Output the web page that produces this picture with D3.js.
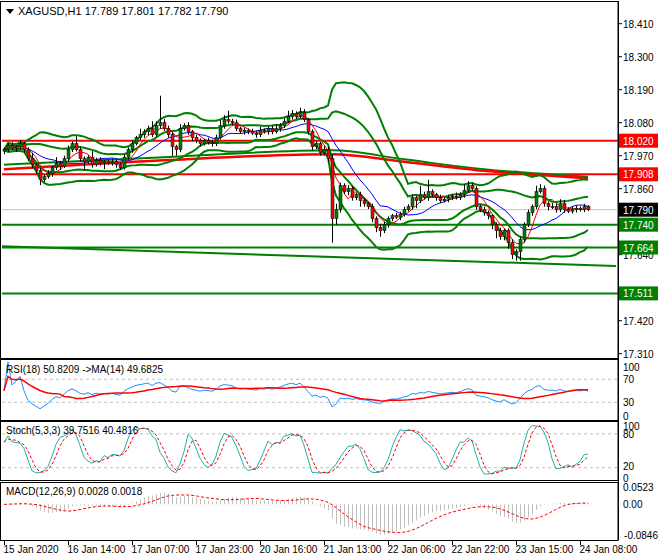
<!DOCTYPE html>
<html><head><meta charset="utf-8">
<script src="https://cdn.jsdelivr.net/npm/d3@7"></script>
<style>body{margin:0;background:#fff}svg{display:block;font-family:"Liberation Sans",Arial,sans-serif}</style>
</head><body><svg id="c" width="660" height="560"></svg>
<script>
const symbolTitle = "XAGUSD,H1  17.789 17.801 17.782 17.790";
const closes = [
17.990,18.005,17.995,18.000,18.010,17.990,17.960,17.940,17.920,17.890,
17.900,17.910,17.930,17.945,17.935,17.960,17.990,18.010,17.990,17.960,
17.950,17.965,17.940,17.955,17.945,17.950,17.945,17.950,17.940,17.930,
17.965,17.990,18.010,18.030,18.040,18.050,18.060,18.040,18.070,18.080,
18.060,18.040,18.000,17.990,18.060,18.070,18.050,18.030,18.020,18.010,
18.020,18.015,18.010,18.030,18.070,18.090,18.085,18.080,18.060,18.050,
18.055,18.050,18.045,18.040,18.055,18.050,18.060,18.050,18.060,18.070,
18.085,18.100,18.110,18.100,18.115,18.090,18.050,18.000,18.010,17.980,
17.990,17.960,17.760,17.790,17.870,17.850,17.860,17.830,17.840,17.820,
17.810,17.800,17.760,17.730,17.720,17.740,17.760,17.770,17.765,17.775,
17.790,17.800,17.830,17.820,17.840,17.830,17.850,17.840,17.830,17.820,
17.825,17.830,17.835,17.830,17.840,17.855,17.870,17.860,17.800,17.790,
17.780,17.770,17.740,17.720,17.700,17.720,17.680,17.640,17.650,17.690,
17.740,17.780,17.800,17.850,17.860,17.810,17.800,17.800,17.790,17.810,
17.790,17.785,17.790,17.795,17.790,17.800,17.790];
const firstOpen = 17.985;
const wickHi = [
8,6,10,5,12,6,8,20,6,10, 8,12,6,20,8,10,14,8,25,10, 8,6,20,8,10,6,8,10,6,8,
10,8,12,6,20,8,10,25,15,90, 12,10,8,6,15,8,12,6,10,8, 6,10,8,10,20,15,30,8,10,6,
8,6,10,8,12,6,8,10,15,8, 10,20,12,8,15,10,6,8,10,6, 12,10,15,20,10,8,12,8,6,10,
8,6,10,8,12,10,8,6,10,8, 10,8,12,6,30,10,40,8,6,10, 8,10,6,12,8,20,15,10,8,6,
10,8,6,8,10,6,8,12,8,10, 8,10,8,20,15,10,8,12,10,15, 12,8,10,8,6,10,5];
const wickLo = [
10,8,6,12,8,10,8,12,10,18, 8,6,10,8,12,6,10,8,6,10, 30,8,10,6,8,20,6,8,10,8,
6,8,10,6,8,10,12,8,6,10, 8,10,30,20,8,6,10,12,8,10, 6,8,10,8,6,10,8,10,8,6,
10,8,6,10,8,6,10,8,6,10, 8,6,10,8,6,8,10,12,8,10, 8,10,80,20,10,8,12,10,8,20,
10,8,12,15,20,8,10,8,6,10, 8,6,10,25,8,6,10,8,10,8, 6,10,8,6,8,10,8,6,10,8,
10,12,15,25,10,12,20,15,20,30, 10,8,10,8,6,10,12,8,10,8, 10,6,8,10,6,8,5];
const priceTicks = [18.410,18.300,18.190,18.080,17.970,17.860,17.640,17.420,17.310];
const redLevels = [18.020, 17.908];
const greenLevels = [17.740, 17.664, 17.511];
const lastPrice = 17.790;
const longRed = [[0,17.925],[40,17.955],[82,17.975],[100,17.950],[120,17.920],[146,17.895]];
const longGreen = [[0,17.940],[40,17.965],[82,17.988],[100,17.958],[120,17.925],[146,17.900]];
const slopeGreen = [[-0.5,17.668],[153,17.602]];
const dateLabels = ["15 Jan 2020","16 Jan 14:00","17 Jan 07:00","17 Jan 23:00","20 Jan 16:00","21 Jan 13:00","22 Jan 06:00","22 Jan 22:00","23 Jan 15:00","24 Jan 08:00"];
const rsiTicks = [100,70,30,0], stochTicks=[100,80,20,0], macdTicks=[0.0523,0.00,-0.0846];

const N = closes.length;
const opens = closes.map((c,i)=> i===0?firstOpen:closes[i-1]);
const highs = closes.map((c,i)=> Math.max(c,opens[i]) + wickHi[i]/1000);
const lows  = closes.map((c,i)=> Math.min(c,opens[i]) - wickLo[i]/1000);

const sma=(a,n)=>a.map((v,i)=>{const s=a.slice(Math.max(0,i-n+1),i+1);return d3.mean(s);});
const ema=(a,n)=>{const k=2/(n+1);let e=a[0];return a.map(v=>e=v*k+e*(1-k));};
const bb=(n,d)=>closes.map((v,i)=>{const s=closes.slice(Math.max(0,i-n+1),i+1);const m=d3.mean(s);const sd=Math.sqrt(d3.mean(s.map(x=>(x-m)**2)));return [m+d*sd,m-d*sd];});
const bb2=bb(20,2), bb1=bb(20,1);
const maFast=sma(closes,5), maSlow=sma(closes,13);
let ag=0,al=0;const rsi=closes.map((c,i)=>{if(i===0)return 50;const ch=c-closes[i-1];const g=Math.max(ch,0),l=Math.max(-ch,0);
 if(i<=18){ag=(ag*(i-1)+g)/i;al=(al*(i-1)+l)/i;}else{ag=(ag*17+g)/18;al=(al*17+l)/18;}return al===0?100:100-100/(1+ag/al);});
const rsiMa=sma(rsi,14);
const num=[],den=[];closes.forEach((c,i)=>{const lo=d3.min(lows.slice(Math.max(0,i-4),i+1)),hi=d3.max(highs.slice(Math.max(0,i-4),i+1));num.push(c-lo);den.push(hi-lo);});
const stK=closes.map((c,i)=>{const a=d3.sum(num.slice(Math.max(0,i-2),i+1)),b=d3.sum(den.slice(Math.max(0,i-2),i+1));return b?100*a/b:50;});
const stD=sma(stK,3);
const e12=ema(closes,12),e26=ema(closes,26);const macd=e12.map((v,i)=>v-e26[i]);const macdSig=sma(macd,9);

const svg=d3.select("#c");
const L=2,R=618;
const x=d3.scaleLinear().domain([0,1]).range([4,8]);
const yP=d3.scaleLinear().domain([17.310,18.410]).range([353.7,23.7]);
const yR=d3.scaleLinear().domain([0,100]).range([419.5,362]);
const yS=d3.scaleLinear().domain([0,100]).range([479,422.5]);
const yM=d3.scaleLinear().domain([-0.0846,0.0523]).range([539,483]);
const panels=[[1,358],[359,420],[421,480],[482,540]];
panels.forEach(p=>svg.append("rect").attr("x",L-1.5).attr("y",p[0]+0.5).attr("width",R-L+1.5).attr("height",p[1]-p[0]).attr("fill","none").attr("stroke","#000"));
svg.append("defs").append("clipPath").attr("id","cm").append("rect").attr("x",L).attr("y",2).attr("width",R-L).attr("height",355);
const g=svg.append("g").attr("clip-path","url(#cm)");
const line=(yS_,curve)=>d3.line().x(d=>x(d[0])).y(d=>yS_(d[1])).curve(curve||d3.curveLinear);
g.append("line").attr("x1",L).attr("x2",R).attr("y1",yP(lastPrice)).attr("y2",yP(lastPrice)).attr("stroke","#c0c0c0");
redLevels.forEach(v=>g.append("line").attr("x1",L).attr("x2",R).attr("y1",yP(v)).attr("y2",yP(v)).attr("stroke","#ff0000").attr("stroke-width",2));
greenLevels.forEach(v=>g.append("line").attr("x1",L).attr("x2",R).attr("y1",yP(v)).attr("y2",yP(v)).attr("stroke","#008000").attr("stroke-width",2));
g.append("path").attr("d",line(yP)(slopeGreen)).attr("stroke","#008000").attr("stroke-width",2).attr("fill","none");
g.append("path").attr("d",line(yP,d3.curveMonotoneX)(longGreen)).attr("stroke","#008000").attr("stroke-width",2).attr("fill","none");
g.append("path").attr("d",line(yP,d3.curveMonotoneX)(longRed)).attr("stroke","#ff0000").attr("stroke-width",2.5).attr("fill","none");
const ser=a=>a.map((v,i)=>[i,v]);
[0,1].forEach(k=>{
 g.append("path").attr("d",line(yP)(ser(bb2.map(d=>d[k])))).attr("stroke","#008000").attr("stroke-width",2).attr("fill","none");
 g.append("path").attr("d",line(yP)(ser(bb1.map(d=>d[k])))).attr("stroke","#008000").attr("stroke-width",2).attr("fill","none");
});
g.append("path").attr("d",line(yP)(ser(maSlow))).attr("stroke","#0000ff").attr("fill","none");
g.append("path").attr("d",line(yP)(ser(maFast))).attr("stroke","#ff0000").attr("fill","none");
closes.forEach((c,i)=>{
 const xc=Math.round(x(i))+0.5;
 g.append("line").attr("x1",xc).attr("x2",xc).attr("y1",yP(highs[i])).attr("y2",yP(lows[i])).attr("stroke","#000");
 const t=yP(Math.max(c,opens[i])),b=yP(Math.min(c,opens[i]));
 g.append("rect").attr("x",xc-1.5).attr("y",t).attr("width",3).attr("height",Math.max(1,b-t)).attr("fill",c>=opens[i]?"#008000":"#ff0000").attr("stroke","#000").attr("stroke-width",0.5);
});
svg.append("path").attr("d","M6,9 L14,9 L10,14 Z").attr("fill","#000");
svg.append("text").attr("x",18).attr("y",15).attr("font-size",11).text(symbolTitle);
const fmt=d3.format(".3f");
priceTicks.forEach(v=>{svg.append("line").attr("x1",R).attr("x2",R+4).attr("y1",yP(v)).attr("y2",yP(v)).attr("stroke","#000");
 svg.append("text").attr("x",623).attr("y",yP(v)+4).attr("font-size",10).text(fmt(v));});
const box=(v,fill)=>{svg.append("rect").attr("x",R).attr("y",yP(v)-7).attr("width",40).attr("height",14).attr("fill",fill);
 svg.append("text").attr("x",623).attr("y",yP(v)+4).attr("font-size",10).attr("fill","#fff").text(fmt(v));};
redLevels.forEach(v=>box(v,"#ff0000"));greenLevels.forEach(v=>box(v,"#008000"));box(lastPrice,"#000");
const dash=(ys,v)=>svg.append("line").attr("x1",L).attr("x2",R).attr("y1",ys(v)).attr("y2",ys(v)).attr("stroke","#c0c0c0").attr("stroke-dasharray","3,3");
dash(yR,70);dash(yR,30);
svg.append("path").attr("d",line(yR)(ser(rsi))).attr("stroke","#1e90ff").attr("fill","none");
svg.append("path").attr("d",line(yR)(ser(rsiMa))).attr("stroke","#ff0000").attr("stroke-width",1.5).attr("fill","none");
svg.append("text").attr("x",6).attr("y",373).attr("font-size",10).text("RSI(18) 50.8209  ->MA(14) 49.6825");
rsiTicks.forEach(v=>svg.append("text").attr("x",623).attr("y",yR(v)+4+(v===100?5:v===0?-4:0)).attr("font-size",10).text(v));
dash(yS,80);dash(yS,20);
svg.append("path").attr("d",line(yS)(ser(stK))).attr("stroke","#20b2aa").attr("fill","none");
svg.append("path").attr("d",line(yS)(ser(stD))).attr("stroke","#ff0000").attr("stroke-dasharray","3,2").attr("fill","none");
svg.append("text").attr("x",6).attr("y",434).attr("font-size",10).text("Stoch(5,3,3) 39.7516 40.4816");
stochTicks.forEach(v=>svg.append("text").attr("x",623).attr("y",yS(v)+4+(v===100?3:v===0?-1:v===20?-2:0)).attr("font-size",10).text(v));
macd.forEach((v,i)=>svg.append("line").attr("x1",Math.round(x(i))+0.5).attr("x2",Math.round(x(i))+0.5).attr("y1",yM(0)).attr("y2",yM(v)).attr("stroke","#c0c0c0"));
svg.append("path").attr("d",line(yM)(ser(macdSig))).attr("stroke","#ff0000").attr("stroke-dasharray","3,2").attr("fill","none");
svg.append("text").attr("x",6).attr("y",495).attr("font-size",10).text("MACD(12,26,9) 0.0028 0.0018");
macdTicks.forEach(v=>svg.append("text").attr("x",v<0?658:623).attr("text-anchor",v<0?"end":"start").attr("y",yM(v)+4+(v>0.05?4:v<-0.08?-4:0)).attr("font-size",10).text(v===0?"0.00":v));
dateLabels.forEach((t,k)=>{const xi=Math.round(x(k*16))+0.5;
 svg.append("line").attr("x1",xi).attr("x2",xi).attr("y1",540).attr("y2",545).attr("stroke","#000");
 svg.append("text").attr("x",xi-1).attr("y",553).attr("font-size",10).text(t);});
svg.append("line").attr("x1",R+0.5).attr("x2",R+0.5).attr("y1",1).attr("y2",540).attr("stroke","#000");
</script></body></html>
